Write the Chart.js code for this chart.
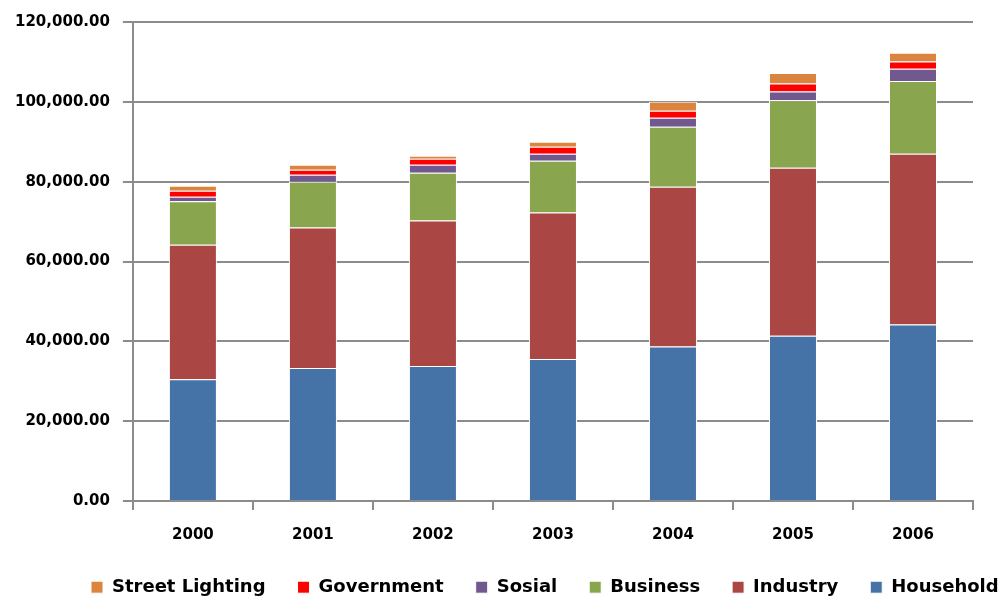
<!DOCTYPE html>
<html>
<head>
<meta charset="utf-8">
<script src="https://cdn.jsdelivr.net/npm/chart.js@4/dist/chart.umd.min.js"></script>
<style>
  html, body { margin: 0; padding: 0; background: #fff; overflow: hidden; }
  #wrap { width: 1003px; height: 602px; }
  canvas { display: block; }
</style>
</head>
<body>
<div id="wrap"><canvas id="energyChart" width="1003" height="602"></canvas></div>
<script>
// data
const years = ['2000', '2001', '2002', '2003', '2004', '2005', '2006'];
const household = [30500, 33300, 33800, 35600, 38700, 41400, 44200];
const industry = [33700, 35200, 36450, 36650, 40050, 42100, 42800];
const business = [10900, 11500, 12000, 13000, 15000, 16900, 18250];
const sosial = [1150, 1750, 2000, 1750, 2250, 2200, 3050];
const government = [1500, 1250, 1500, 1750, 1750, 2000, 1800];
const streetLighting = [1250, 1250, 750, 1250, 2250, 2600, 2200];
const yTicks = [0, 20000, 40000, 60000, 80000, 100000, 120000];

Chart.defaults.font.family = "'DejaVu Sans', sans-serif";
Chart.defaults.font.weight = 'bold';
Chart.defaults.color = '#000';

function makeSet(label, data, color) {
    return {
        label: label,
        data: data,
        backgroundColor: color,
        borderColor: '#ffffff',
        borderWidth: 1,
        categoryPercentage: 0.4,
        barPercentage: 1.0
    };
}

// legend: one row, first box at x=91, text centred near y=590
const legendTweak = {
    id: 'legendTweak',
    beforeLayout(chart) {
        const lg = chart.legend;
        if (lg && !lg._tweaked) {
            const fit = lg.fit.bind(lg);
            lg.fit = function () {
                this.maxWidth = 1003;
                fit();
                this.height -= 22;
            };
            lg._tweaked = true;
        }
    },
    afterLayout(chart) {
        const lg = chart.legend;
        const pad = lg.options.labels.padding;
        const lw = lg.lineWidths[0];
        lg.left = 0;
        lg.right = 2 * 91 - pad + lw;
        // legend clips to its own box, so let it reach the canvas bottom
        lg.top = 589 - pad - 10.8;
        lg.bottom = chart.height;
        lg.height = lg.bottom - lg.top;
    }
};

const ctx = document.getElementById('energyChart').getContext('2d');
const energyChart = new Chart(ctx, {
    type: 'bar',
    data: {
        labels: years,
        datasets: [
            makeSet('Household', household, '#4572A7'),
            makeSet('Industry', industry, '#AA4643'),
            makeSet('Business', business, '#89A54E'),
            makeSet('Sosial', sosial, '#71588F'),
            makeSet('Government', government, '#FF0000'),
            makeSet('Street Lighting', streetLighting, '#DB843D')
        ]
    },
    plugins: [legendTweak],
    options: {
        responsive: false,
        animation: false,
        layout: { padding: { left: 2, right: 30, top: 17, bottom: 4 } },
        plugins: {
            tooltip: { enabled: false },
            legend: {
                position: 'bottom',
                reverse: true,
                labels: {
                    boxWidth: 12,
                    boxHeight: 12,
                    padding: 32,
                    font: { size: 18, weight: 'bold' }
                }
            }
        },
        scales: {
            x: {
                stacked: true,
                grid: {
                    drawOnChartArea: false,
                    drawTicks: true,
                    tickLength: 9,
                    color: '#8c8c8c',
                    lineWidth: 2
                },
                border: { color: '#8c8c8c', width: 2 },
                ticks: { padding: 16, font: { size: 15, weight: 'bold' } }
            },
            y: {
                stacked: true,
                min: 0,
                max: 120000,
                afterBuildTicks: function (axis) {
                    axis.ticks = yTicks.map(v => ({ value: v }));
                },
                grid: {
                    color: '#8c8c8c',
                    lineWidth: 2,
                    tickLength: 10
                },
                border: { color: '#8c8c8c', width: 2 },
                ticks: {
                    padding: 13,
                    font: { size: 15, weight: 'bold' },
                    callback: function (v) {
                        return Number(v).toLocaleString('en-US', { minimumFractionDigits: 2, maximumFractionDigits: 2 });
                    }
                }
            }
        }
    }
});
</script>
</body>
</html>
